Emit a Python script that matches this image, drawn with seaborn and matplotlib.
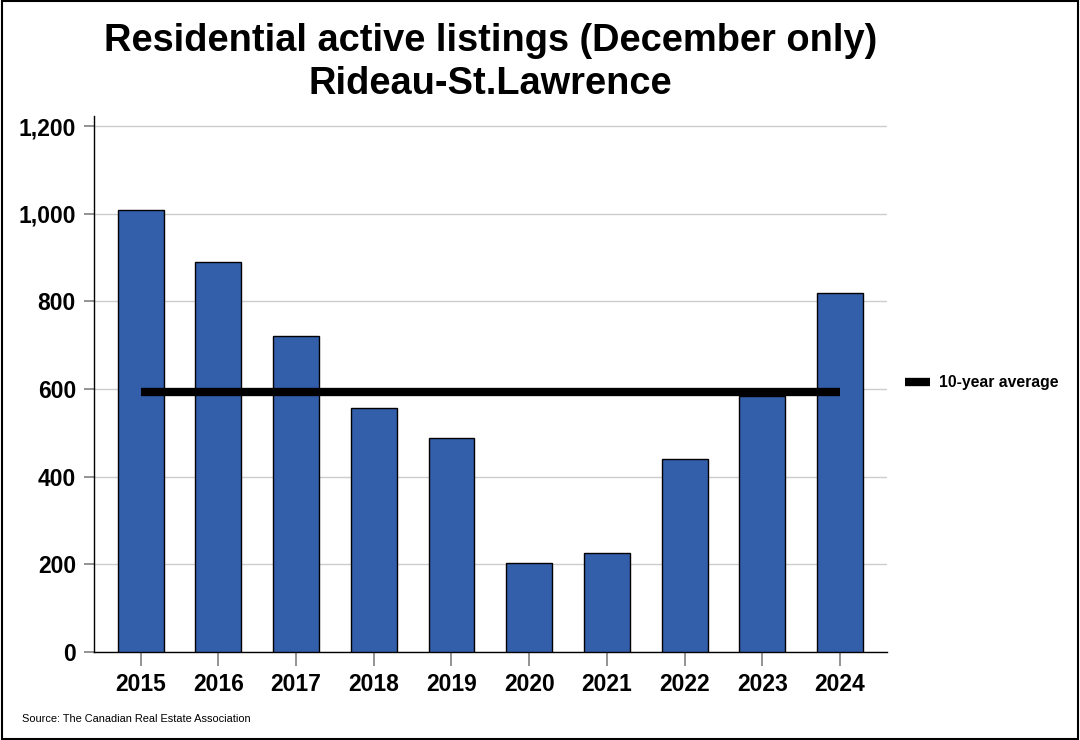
import pandas as pd
import matplotlib
matplotlib.use("Agg")
import matplotlib.pyplot as plt
import seaborn as sns

years = ["2015", "2016", "2017", "2018", "2019", "2020", "2021", "2022", "2023", "2024"]
listings = [1008, 890, 721, 557, 488, 203, 226, 440, 584, 819]
ten_year_avg = 594

df = pd.DataFrame({"year": years, "listings": listings})

sns.set_style("white")
plt.rcParams["font.family"] = ["Liberation Sans", "DejaVu Sans"]
plt.rcParams["text.color"] = "black"
plt.rcParams["xtick.color"] = "black"
plt.rcParams["ytick.color"] = "black"

fig = plt.figure(figsize=(10.8, 7.4), dpi=100)
ax = fig.add_axes([0.087, 0.119, 0.734, 0.724])

sns.barplot(
    data=df,
    x="year",
    y="listings",
    color="#335FAA",
    saturation=1,
    width=0.59,
    edgecolor="black",
    linewidth=1,
    ax=ax,
    zorder=3,
)

# 10-year average line from first to last year
ax.plot([0, len(years) - 1], [ten_year_avg, ten_year_avg], color="black",
        linewidth=6, solid_capstyle="butt", zorder=4, label="10-year average")

ax.set_xlim(-0.6, 9.6)
ax.set_ylim(0, 1223)
yticks = [0, 200, 400, 600, 800, 1000, 1200]
ax.set_yticks(yticks)
ax.set_yticklabels([f"{v:,}" for v in yticks])
ax.yaxis.grid(True, color="#cccccc", linewidth=1, zorder=0)
ax.set_axisbelow(True)

ax.set_xlabel("")
ax.set_ylabel("")
for side in ["top", "right"]:
    ax.spines[side].set_visible(False)
ax.spines["left"].set_color("black")
ax.spines["bottom"].set_color("black")
ax.spines["left"].set_linewidth(1)
ax.spines["bottom"].set_linewidth(1)

ax.tick_params(axis="y", left=True, length=7, color="#808080", width=1.2,
               labelsize=16.5, pad=6, labelcolor="black")
ax.tick_params(axis="x", bottom=True, length=10, color="#808080", width=1.2,
               labelsize=16.5, pad=5, labelcolor="black")
for lab in ax.get_xticklabels() + ax.get_yticklabels():
    lab.set_fontweight("bold")

leg = ax.legend(loc="center left", bbox_to_anchor=(1.005, 0.502), frameon=False,
                handlelength=1.6, handletextpad=0.6, prop={"weight": "bold", "size": 11.3})

fig.text(0.454, 0.945, "Residential active listings (December only)", ha="center",
         va="center", fontsize=27.4, fontweight="bold")
fig.text(0.454, 0.886, "Rideau-St.Lawrence", ha="center", va="center",
         fontsize=27.4, fontweight="bold")
fig.text(0.02, 0.029, "Source: The Canadian Real Estate Association", ha="left",
         va="center", fontsize=7.9)

# border around the whole figure
fig.patches.append(plt.Rectangle((0.0015, 0.002), 0.997, 0.996, transform=fig.transFigure,
                                 fill=False, edgecolor="black", linewidth=1.5))

fig.savefig("out.png", dpi=100)
